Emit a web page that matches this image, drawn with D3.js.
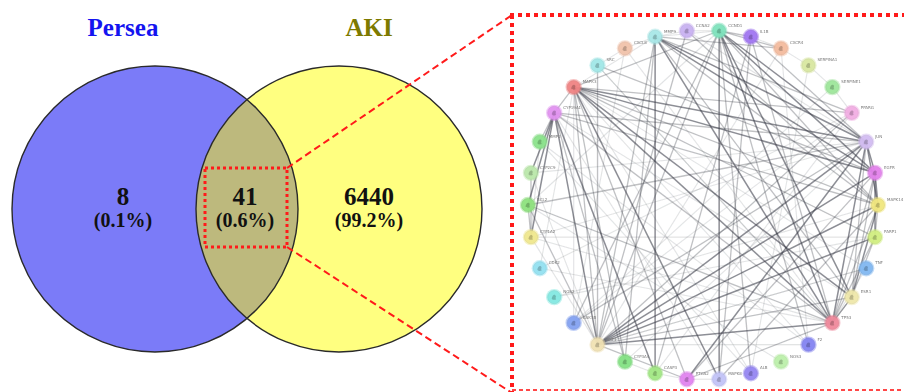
<!DOCTYPE html>
<html>
<head>
<meta charset="utf-8">
<script src="https://cdn.jsdelivr.net/npm/d3@7"></script>
<style>
  html, body { margin: 0; padding: 0; background: #fff; }
  svg { display: block; }
</style>
</head>
<body>
<svg id="chart" width="904" height="392"></svg>
<script>
// ---- Venn data ----
const setNames = ["Persea", "AKI"];
const setColors = ["#1414f0", "#7d7a00"];
const regionCounts = [8, 41, 6440];
const regionPercents = ["(0.1%)", "(0.6%)", "(99.2%)"];

// ---- Network data (shared targets) ----
const genes = [
  "CCND1", "IL1B", "CXCR4", "SERPINA1", "SERPINE1", "PPARG", "JUN", "EGFR",
  "MAPK14", "PARP1", "TNF", "ESR1", "TP53", "F2", "NOS3", "ALB", "MAPK8",
  "PTGS2", "CASP3", "CYP3A4", "AKT1", "GSK3B", "NOS2", "CDK2", "CYP1A2",
  "BCL2", "CYP2C9", "MMP2", "CYP19A1", "MAPK3", "SRC", "CXCL8", "MMP9", "CCNA2"
];
const geneColors = [
  "#7fe3bd", "#a277f2", "#f4bc9f", "#d9e8a2", "#9fe69c", "#f2aee3", "#d3bdf2", "#e383ec",
  "#f1e77f", "#d2ef82", "#83b9f2", "#efe8ab", "#f08a9d", "#8585f2", "#bdf0ab", "#9687f2",
  "#c3c4f8", "#e285f0", "#a3e885", "#85e285", "#f1e2b4", "#85a3f2", "#85e9e2", "#94e1f1",
  "#f0e88f", "#8fe27f", "#bbe8ab", "#8ce38c", "#e293f1", "#f08585", "#a2e8e8", "#f1c3ab",
  "#a9e8e8", "#c9b2f2"
];
// edges: [source, target, strength] (strength 3 = strong, 2 = medium, 1 = weak)
const links = [
  ["MAPK3","JUN",3],["MAPK3","EGFR",3],["MAPK3","MAPK14",2],["MAPK3","ESR1",3],["MAPK3","TP53",3],
  ["MAPK3","PPARG",2],["MAPK3","PARP1",2],["MAPK3","TNF",1],["MAPK3","PTGS2",2],["MAPK3","MAPK8",3],
  ["MAPK3","AKT1",2],["MAPK3","GSK3B",1],["MAPK3","CYP3A4",2],["MAPK3","ALB",1],["MAPK3","F2",1],
  ["MAPK3","CDK2",1],["MAPK3","MMP9",1],["MAPK3","CCND1",2],["MAPK3","CYP19A1",2],
  ["AKT1","JUN",3],["AKT1","EGFR",3],["AKT1","MAPK14",3],["AKT1","PARP1",3],["AKT1","TP53",3],
  ["AKT1","ESR1",2],["AKT1","CCND1",2],["AKT1","MMP9",2],["AKT1","CYP19A1",3],["AKT1","BCL2",2],
  ["AKT1","CYP2C9",1],["AKT1","CCNA2",2],["AKT1","CXCR4",1],["AKT1","PPARG",2],["AKT1","PTGS2",2],
  ["AKT1","SRC",2],["AKT1","CYP1A2",1],["AKT1","F2",1],["AKT1","TNF",1],
  ["TP53","JUN",3],["TP53","CCND1",3],["TP53","MMP9",3],["TP53","CYP19A1",2],["TP53","EGFR",2],
  ["TP53","MAPK14",2],["TP53","BCL2",2],["TP53","CYP1A2",1],["TP53","CXCL8",1],["TP53","PTGS2",2],
  ["TP53","SRC",1],["TP53","PARP1",2],["TP53","ESR1",2],["TP53","IL1B",2],
  ["JUN","CCND1",3],["JUN","MMP9",3],["JUN","CYP19A1",2],["JUN","CYP1A2",1],["JUN","EGFR",3],
  ["JUN","MAPK14",3],["JUN","ESR1",2],["JUN","PTGS2",3],["JUN","GSK3B",2],["JUN","CYP3A4",1],
  ["JUN","BCL2",2],["JUN","CYP2C9",1],["JUN","IL1B",2],["JUN","CCNA2",1],
  ["CCND1","EGFR",3],["CCND1","MAPK8",3],["CCND1","ALB",2],["CCND1","F2",2],["CCND1","ESR1",3],
  ["CCND1","MAPK14",2],["CCND1","BCL2",1],["CCND1","GSK3B",2],["CCND1","IL1B",2],["CCND1","CXCR4",2],
  ["CCND1","CCNA2",1],["CCND1","MMP9",1],
  ["MMP9","EGFR",3],["MMP9","MAPK14",2],["MMP9","ESR1",2],["MMP9","CASP3",3],["MMP9","CYP3A4",2],
  ["MMP9","PPARG",2],["MMP9","CXCR4",2],["MMP9","CXCL8",1],
  ["CYP19A1","BCL2",3],["CYP19A1","CYP1A2",3],["CYP19A1","CYP2C9",3],["CYP19A1","MMP2",2],
  ["CYP19A1","CYP3A4",2],["CYP19A1","CASP3",3],["CYP19A1","ESR1",1],["CYP19A1","MAPK14",2],
  ["CYP1A2","BCL2",2],["CYP1A2","CYP2C9",2],["CYP1A2","PARP1",1],["CYP1A2","MMP2",1],
  ["EGFR","MAPK14",3],["EGFR","PARP1",3],["EGFR","ESR1",2],["EGFR","PTGS2",2],
  ["MAPK14","PARP1",2],["MAPK14","ESR1",3],["MAPK14","MAPK8",2],["PARP1","ESR1",2],["TNF","TP53",1],
  ["ESR1","TP53",2],["PTGS2","MAPK8",1],["PTGS2","CASP3",1],["CASP3","CYP3A4",1],["IL1B","CXCR4",1],
  ["CXCR4","SERPINA1",1],["SERPINA1","SERPINE1",1],["SERPINE1","PPARG",1],["SERPINA1","ALB",1],
  ["SRC","CXCL8",1],["SRC","EGFR",2],["SRC","TP53",1],["CXCL8","GSK3B",1],["CCNA2","MAPK14",2],
  ["CCNA2","MMP9",1],["IL1B","CASP3",2],["IL1B","MAPK8",2],["CXCR4","F2",1],["GSK3B","PPARG",1],
  ["NOS2","PARP1",1],["CDK2","TP53",1],["NOS3","BCL2",1],["F2","MMP2",1],["ALB","MMP2",1],
  ["MAPK8","CYP19A1",1],["PPARG","CASP3",1],["SERPINE1","GSK3B",1],["TNF","AKT1",1],
  ["NOS2","MAPK14",1],["CDK2","PPARG",1]
];

const svg = d3.select("#chart");
const serif = "'Liberation Serif', 'Times New Roman', serif";

// ================= Venn diagram =================
const venn = svg.append("g");
const vx = d3.scaleLinear().domain([0, 1]).range([155, 339]); // circle centres
const vy = 209, vr = 143;

const defs = svg.append("defs");
defs.append("clipPath").attr("id", "clipLeft")
  .append("circle").attr("cx", vx(0)).attr("cy", vy).attr("r", vr);

venn.append("circle").attr("cx", vx(0)).attr("cy", vy).attr("r", vr).attr("fill", "#7b7bf8");
venn.append("circle").attr("cx", vx(1)).attr("cy", vy).attr("r", vr).attr("fill", "#ffff80");
venn.append("circle").attr("cx", vx(1)).attr("cy", vy).attr("r", vr)
  .attr("fill", "#bdb97d").attr("clip-path", "url(#clipLeft)");
[0, 1].forEach(i => {
  venn.append("circle").attr("cx", vx(i)).attr("cy", vy).attr("r", vr)
    .attr("fill", "none").attr("stroke", "#2a2a2a").attr("stroke-width", 1.4);
});

// set titles
const titleX = [123, 369];
setNames.forEach((n, i) => {
  venn.append("text").attr("x", titleX[i]).attr("y", 36)
    .attr("text-anchor", "middle")
    .attr("font-family", serif)
    .attr("font-weight", "bold").attr("font-size", 25)
    .attr("fill", setColors[i]).text(n);
});

// region counts
const regionX = [123, 245, 369];
regionCounts.forEach((c, i) => {
  venn.append("text").attr("x", regionX[i]).attr("y", 205)
    .attr("text-anchor", "middle")
    .attr("font-family", serif)
    .attr("font-weight", "bold").attr("font-size", 25)
    .attr("fill", "#111").text(c);
  venn.append("text").attr("x", regionX[i]).attr("y", 227)
    .attr("text-anchor", "middle")
    .attr("font-family", serif)
    .attr("font-weight", "bold").attr("font-size", 20)
    .attr("fill", "#111").text(regionPercents[i]);
});

// zoom callout
const red = "#ff1a1a";
venn.append("rect").attr("x", 205).attr("y", 168).attr("width", 82).attr("height", 79)
  .attr("fill", "none").attr("stroke", red).attr("stroke-width", 3)
  .attr("stroke-dasharray", "3,3");
venn.append("line").attr("x1", 287).attr("y1", 168).attr("x2", 512).attr("y2", 15)
  .attr("stroke", red).attr("stroke-width", 2).attr("stroke-dasharray", "7,4");
venn.append("line").attr("x1", 287).attr("y1", 247).attr("x2", 512).attr("y2", 393)
  .attr("stroke", red).attr("stroke-width", 2).attr("stroke-dasharray", "7,4");

// frame around network
svg.append("line").attr("x1", 510).attr("y1", 15).attr("x2", 904).attr("y2", 15)
  .attr("stroke", red).attr("stroke-width", 4).attr("stroke-dasharray", "4,4");
svg.append("line").attr("x1", 512).attr("y1", 15).attr("x2", 512).attr("y2", 392)
  .attr("stroke", red).attr("stroke-width", 4).attr("stroke-dasharray", "4,4");
svg.append("line").attr("x1", 512).attr("y1", 390).attr("x2", 904).attr("y2", 390)
  .attr("stroke", red).attr("stroke-width", 2).attr("stroke-dasharray", "4,3")
  .attr("opacity", 0.8);

// ================= Network =================
defs.append("filter").attr("id", "soft")
  .append("feGaussianBlur").attr("stdDeviation", 0.6);

const cx = 703, cy = 205, R = 175;
const n = genes.length;
const angle = d3.scaleLinear().domain([0, n]).range([0, 2 * Math.PI]);
const nodes = genes.map((g, i) => {
  const a = angle(i + 0.5);
  return { id: g, color: geneColors[i], x: cx + R * Math.sin(a), y: cy - R * Math.cos(a) };
});
const byId = new Map(nodes.map(d => [d.id, d]));

const net = svg.append("g").attr("filter", "url(#soft)");
const strokeOpacity = d3.scaleOrdinal().domain([1, 2, 3]).range([0.14, 0.32, 0.58]);
const strokeWidth = d3.scaleOrdinal().domain([1, 2, 3]).range([1.1, 1.3, 1.5]);

net.append("g").selectAll("line").data(links).join("line")
  .attr("x1", d => byId.get(d[0]).x).attr("y1", d => byId.get(d[0]).y)
  .attr("x2", d => byId.get(d[1]).x).attr("y2", d => byId.get(d[1]).y)
  .attr("stroke", "#3a3d48")
  .attr("stroke-opacity", d => strokeOpacity(d[2]))
  .attr("stroke-width", d => strokeWidth(d[2]));

const ng = net.append("g").selectAll("g").data(nodes).join("g")
  .attr("transform", d => `translate(${d.x},${d.y})`);
ng.append("circle").attr("r", 8.2).attr("fill", d => d.color).attr("opacity", 0.5);
ng.append("circle").attr("r", 6.6).attr("fill", d => d.color).attr("opacity", 0.92)
  .attr("stroke", d => d3.color(d.color).darker(0.3)).attr("stroke-width", 0.5);
// small structure glyph inside each node
ng.append("path")
  .attr("d", "M-2.5,1.5 C-2,-1 -0.5,-3 1,-2 C2.8,-1 0.5,0.5 2,2 C1,3 -1.5,3 -2.5,1.5 Z")
  .attr("fill", d => d3.color(d.color).darker(1.3)).attr("opacity", 0.55);
ng.append("text").attr("x", 9).attr("y", -4)
  .attr("font-family", "'DejaVu Sans', sans-serif").attr("font-size", 4)
  .attr("fill", "#777").text(d => d.id);
</script>
</body>
</html>
